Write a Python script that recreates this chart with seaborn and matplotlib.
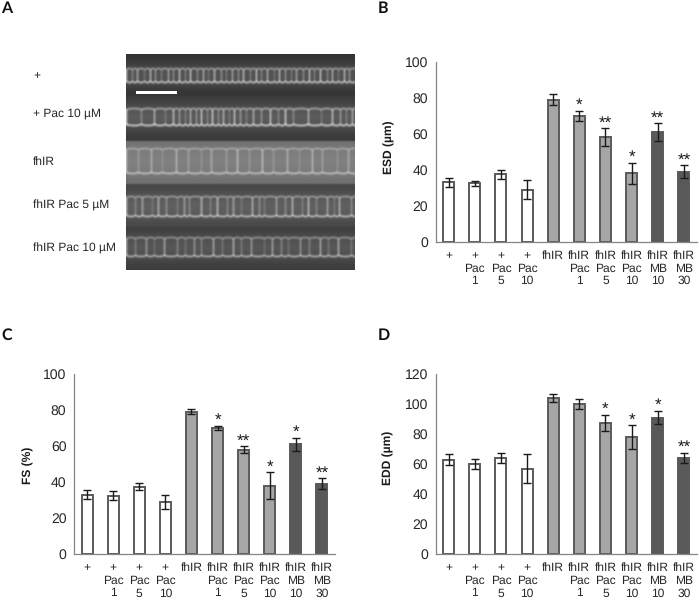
import numpy as np
import pandas as pd
import matplotlib
matplotlib.use('Agg')
import matplotlib.pyplot as plt
import seaborn as sns

# --- Data ---
GROUPS = ['+', '+\nPac\n1', '+\nPac\n5', '+\nPac\n10', 'fhIR',
          'fhIR\nPac\n1', 'fhIR\nPac\n5', 'fhIR\nPac\n10', 'fhIR\nMB\n10', 'fhIR\nMB\n30']
BAR_COLORS = ['white'] * 4 + ['#a6a6a6'] * 4 + ['#595959'] * 2

ESD_VALUES = [33, 32.5, 37.5, 29, 79, 70, 58, 38, 61, 39]
ESD_ERRORS = [2.5, 1.5, 2.5, 5.5, 3, 3, 5, 6, 5, 3.5]
ESD_STARS = ['', '', '', '', '', '*', '**', '*', '**', '**']

FS_VALUES = [33, 32.5, 37.5, 29, 79, 70, 58, 38, 61, 39]
FS_ERRORS = [2.3, 2.3, 2, 3.8, 1.3, 1.3, 2, 7.5, 3.5, 3]
FS_STARS = ['', '', '', '', '', '*', '**', '*', '*', '**']

EDD_VALUES = [63, 60, 64, 57, 104, 100, 87.5, 78, 91, 64]
EDD_ERRORS = [3.5, 3.5, 3.5, 9.5, 2.5, 3.5, 5.5, 8, 4.5, 3.5]
EDD_STARS = ['', '', '', '', '', '', '*', '*', '*', '**']

STRIP_LABELS = ['+', '+ Pac 10 µM', 'fhIR', 'fhIR Pac 5 µM', 'fhIR Pac 10 µM']
STRIP_LABEL_Y = [76, 113, 162, 205, 248]

# one row per strip: y start, y end, top wall, bottom wall, background, brightness, cell widths
STRIPS = [
    (54, 95, 69, 81, 50, 105, [6, 5, 7, 6, 5, 6, 7, 5, 6]),
    (95, 141, 109, 124, 56, 110, [15, 13, 11, 8, 6, 6, 5, 6, 5, 6, 5, 6, 5, 6, 5, 6, 6, 7, 8, 9, 8, 7, 8]),
    (141, 184, 149, 172, 108, 62, [12, 13, 11, 14, 12, 13, 10, 15, 11]),
    (184, 227, 197, 215, 66, 92, [9, 7, 10, 6, 8, 11, 7, 5, 12]),
    (227, 270, 238, 255, 58, 88, [9, 11, 8, 10, 13, 8, 9, 7, 12]),
]
# how strongly each successive cell wall shows up
WALL_GAINS = [0.9, 0.4, 0.7, 0.25, 0.8, 0.5, 0.3, 0.65, 0.45, 0.85, 0.35]

FIG_W, FIG_H = 699, 601
AXIS_GREY = '#868686'
TEXT_GREY = '#262626'


def px_axes(fig, left, top, right, bottom):
    return fig.add_axes([left / FIG_W, 1 - bottom / FIG_H, (right - left) / FIG_W, (bottom - top) / FIG_H])


def smooth(img, passes=2):
    kernel = np.array([0.25, 0.5, 0.25])
    pad = 3
    img = np.pad(img, pad, mode='edge')
    for _ in range(passes):
        img = np.apply_along_axis(lambda r: np.convolve(r, kernel, mode='same'), 1, img)
        img = np.apply_along_axis(lambda c: np.convolve(c, kernel, mode='same'), 0, img)
    return img[pad:-pad, pad:-pad]


def micrograph(width):
    rows = []
    for start, end, top, bot, bg, bright, widths in STRIPS:
        ys = np.arange(start, end)[:, None]
        xs = np.arange(width)
        # wall positions along the tube
        walls = [0.0]
        i = 0
        while walls[-1] < width:
            walls.append(walls[-1] + widths[i % len(widths)])
            i += 1
        walls = np.array(walls)
        idx = np.clip(np.searchsorted(walls, xs, side='right') - 1, 0, len(walls) - 2)
        cell = walls[idx + 1] - walls[idx]
        frac = (xs - walls[idx]) / cell
        bow = (2 * frac - 1) ** 2
        top_y = (top - 1.0 * (1 - bow))[None, :]
        bot_y = (bot + 1.0 * (1 - bow))[None, :]
        dist = np.minimum(frac, 1 - frac) * cell
        near = np.where(frac < 0.5, idx, idx + 1)
        gain = np.array(WALL_GAINS)[near % len(WALL_GAINS)]
        centre = (top + bot) / 2
        half = (bot - top) / 2
        # tube glow, horizontal membranes and the cell walls between them
        img = bg + 0.32 * bright * np.exp(-((ys - centre) / (half + 6)) ** 2)
        img = img + 0.7 * bright * np.exp(-((ys - top_y) / 1.1) ** 2)
        img = img + 1.05 * bright * np.exp(-((ys - bot_y) / 1.1) ** 2)
        inside = (ys > top_y) & (ys < bot_y)
        img = img + 1.1 * bright * inside * gain[None, :] * np.exp(-(dist[None, :] / 0.9) ** 2)
        rows.append(img)
    return smooth(np.vstack(rows), 1)


def draw_bars(ax, values, errors, stars, ymax, ystep):
    df = pd.DataFrame({'group': GROUPS, 'value': values})
    sns.barplot(data=df, x='group', y='value', hue='group', order=GROUPS, hue_order=GROUPS,
                palette=BAR_COLORS, width=0.42, edgecolor='#5a5a5a', linewidth=1.4,
                legend=False, ax=ax)
    pos = np.arange(len(GROUPS))
    ax.errorbar(pos, values, yerr=errors, fmt='none', ecolor='#1a1a1a', elinewidth=1.0, capsize=3.2, capthick=1.0)
    for p, v, e, s in zip(pos, values, errors, stars):
        if s:
            ax.annotate(s, (p, v + e), xytext=(0, -2), textcoords='offset points', ha='center',
                        va='bottom', fontsize=12, color='#1a1a1a')
    ax.set_xlim(-0.5, len(GROUPS) - 0.5)
    ax.set_ylim(0, ymax)
    ax.set_yticks(np.arange(0, ymax + 1, ystep))
    ax.set_xlabel('')
    ax.set_ylabel('')
    ax.set_xticks(pos)
    ax.set_xticklabels(GROUPS, fontsize=8.6, color=TEXT_GREY, linespacing=1.15)
    ax.set_xticks(np.arange(-0.5, len(GROUPS)), minor=True)
    ax.tick_params(axis='x', which='major', length=0, pad=6.3)
    ax.tick_params(axis='x', which='minor', length=3, width=0.9, color=AXIS_GREY)
    ax.tick_params(axis='y', length=3, width=0.9, color=AXIS_GREY, labelsize=10, labelcolor=TEXT_GREY, pad=2.5)
    for side in ['top', 'right']:
        ax.spines[side].set_visible(False)
    for side in ['left', 'bottom']:
        ax.spines[side].set_color(AXIS_GREY)
        ax.spines[side].set_linewidth(0.9)
    ax.grid(False)


def main():
    sns.set_theme(style='white')
    plt.rcParams['font.family'] = ['Liberation Sans', 'DejaVu Sans']
    plt.rcParams['text.hinting'] = 'none'
    plt.rcParams['text.hinting_factor'] = 1
    fig = plt.figure(figsize=(FIG_W / 100, FIG_H / 100), dpi=100)

    # --- Panel A ---
    ax_img = px_axes(fig, 126, 54, 355, 270)
    ax_img.imshow(micrograph(229), cmap='gray', vmin=0, vmax=255, aspect='auto',
                  interpolation='bilinear', extent=(126, 355, 270, 54))
    ax_img.fill_between([136, 177], 90.5, 94, color='white', lw=0)
    ax_img.set_xlim(126, 355)
    ax_img.set_ylim(270, 54)
    ax_img.axis('off')
    for label, y in zip(STRIP_LABELS, STRIP_LABEL_Y):
        fig.text(33 / FIG_W, 1 - y / FIG_H, label, fontsize=8.5, color=TEXT_GREY, va='center')

    # --- Bar panels ---
    draw_bars(px_axes(fig, 435.5, 62, 697, 241.7), ESD_VALUES, ESD_ERRORS, ESD_STARS, 100, 20)
    draw_bars(px_axes(fig, 74, 374, 335, 554), FS_VALUES, FS_ERRORS, FS_STARS, 100, 20)
    draw_bars(px_axes(fig, 435.5, 374, 697, 554), EDD_VALUES, EDD_ERRORS, EDD_STARS, 120, 20)

    for label, x, y in [('ESD (µm)', 389, 147.5), ('FS (%)', 28, 465), ('EDD (µm)', 388, 458)]:
        fig.text(x / FIG_W, 1 - y / FIG_H, label, rotation=90, fontsize=8.4, fontweight='bold',
                 color='#1a1a1a', ha='center', va='center')

    for label, x, y in [('A', 1, 8), ('B', 378, 8), ('C', 1, 335), ('D', 378, 335)]:
        fig.text(x / FIG_W, 1 - y / FIG_H, label, fontsize=11.5, fontweight='bold', family='Lato',
                 color='#111111', va='center')

    fig.savefig('out.png', dpi=100)


if __name__ == '__main__':
    main()
